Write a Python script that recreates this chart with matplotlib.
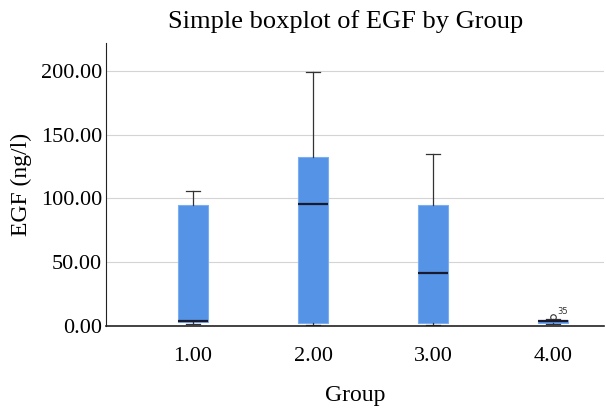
import matplotlib
matplotlib.use("Agg")
from matplotlib import pyplot as plt

groups = ["1.00", "2.00", "3.00", "4.00"]
whislo = [1.5, 1.0, 0.5, 1.5]
q1 = [3.0, 2.0, 2.5, 2.5]
med = [4.2, 95.7, 41.6, 3.8]
q3 = [95.0, 132.8, 95.0, 5.0]
whishi = [106.0, 199.0, 135.0, 5.8]
outliers = [[], [], [], [7.3]]
outlier_ids = [[], [], [], ["35"]]

plt.rcParams['font.family'] = ['Liberation Serif', 'DejaVu Serif']

fig = plt.figure(figsize=(6.06, 4.08), dpi=100)
ax = fig.add_axes([0.175, 0.201, 0.822, 0.694])

stats = []
for i in range(len(groups)):
    stats.append(dict(label=groups[i], whislo=whislo[i], q1=q1[i], med=med[i],
                      q3=q3[i], whishi=whishi[i], fliers=outliers[i]))

pos = list(range(1, len(groups) + 1))
ax.bxp(stats, positions=pos, widths=0.25, patch_artist=True,
       boxprops=dict(facecolor='#5593e6', edgecolor='#7aaef0', linewidth=0.8),
       medianprops=dict(color='#1a1a2e', linewidth=1.6),
       whiskerprops=dict(color='#333333', linewidth=0.9),
       capprops=dict(color='#333333', linewidth=0.9),
       capwidths=0.12,
       flierprops=dict(marker='o', markersize=4, markerfacecolor='none',
                       markeredgecolor='#333333', markeredgewidth=0.8))

for i in range(len(groups)):
    for v, t in zip(outliers[i], outlier_ids[i]):
        ax.annotate(t, (pos[i], v), xytext=(3, 2), textcoords='offset points',
                    fontsize=6, family='DejaVu Sans', color='#333333')

ax.set_xlim(0.275, 4.425)
ax.set_ylim(0, 222)
ax.set_yticks([0, 50, 100, 150, 200])
ax.set_yticklabels(["%.2f" % v for v in [0, 50, 100, 150, 200]])
ax.grid(axis='y', color='#d4d4d4', linewidth=0.8)
ax.set_axisbelow(True)
ax.tick_params(axis='both', length=0, labelsize=16)
ax.tick_params(axis='y', pad=3)
ax.tick_params(axis='x', pad=15)
ax.spines['top'].set_visible(False)
ax.spines['right'].set_visible(False)
ax.spines['left'].set_color('#222222')
ax.spines['bottom'].set_color('#222222')
ax.spines['bottom'].set_linewidth(1.2)

ax.set_xlabel("Group", fontsize=17, labelpad=14)
ax.set_ylabel("EGF (ng/l)", fontsize=17, labelpad=6)
fig.suptitle("Simple boxplot of EGF by Group", fontsize=19, x=0.571, y=0.975)

fig.savefig("out.png", dpi=100)
